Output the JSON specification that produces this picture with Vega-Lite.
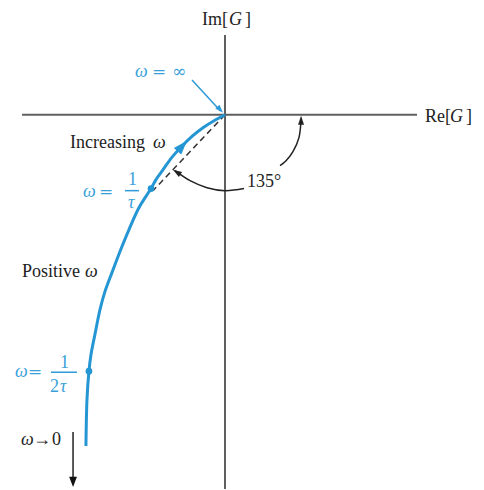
{
  "$schema": "https://vega.github.io/schema/vega-lite/v6.json",
  "width": 484,
  "height": 490,
  "autosize": {"type": "fit", "contains": "padding"},
  "padding": 0,
  "background": "white",
  "config": {"view": {"stroke": null}},
  "datasets": {
    "curve": [
      {"k": 0, "re": 0, "im": 0},
      {"k": 1, "re": -0.073, "im": -0.04},
      {"k": 2, "re": -0.147, "im": -0.087},
      {"k": 3, "re": -0.22, "im": -0.145},
      {"k": 4, "re": -0.287, "im": -0.21},
      {"k": 5, "re": -0.353, "im": -0.283},
      {"k": 6, "re": -0.413, "im": -0.367},
      {"k": 7, "re": -0.46, "im": -0.433},
      {"k": 8, "re": -0.493, "im": -0.493},
      {"k": 9, "re": -0.573, "im": -0.62},
      {"k": 10, "re": -0.64, "im": -0.767},
      {"k": 11, "re": -0.7, "im": -0.913},
      {"k": 12, "re": -0.753, "im": -1.053},
      {"k": 13, "re": -0.8, "im": -1.18},
      {"k": 14, "re": -0.833, "im": -1.3},
      {"k": 15, "re": -0.867, "im": -1.467},
      {"k": 16, "re": -0.893, "im": -1.6},
      {"k": 17, "re": -0.907, "im": -1.713},
      {"k": 18, "re": -0.92, "im": -1.9},
      {"k": 19, "re": -0.927, "im": -2.213}
    ],
    "marked": [
      {"omega": "1/tau", "re": -0.493, "im": -0.493},
      {"omega": "1/(2tau)", "re": -0.907, "im": -1.713}
    ],
    "axes": [
      {"name": "Re", "re": -1.353, "im": 0, "re2": 1.28, "im2": 0},
      {"name": "Im", "re": 0, "im": 0.533, "re2": 0, "im2": -2.5}
    ],
    "segments": [
      {"name": "phase", "grp": "dashed", "re": 0, "im": 0, "re2": -0.48, "im2": -0.507},
      {"name": "omega0", "grp": "black", "re": -1.013, "im": -2.12, "re2": -1.013, "im2": -2.44},
      {"name": "omegaInf", "grp": "blue", "re": -0.22, "im": 0.233, "re2": -0.03, "im2": 0.025},
      {"name": "bar1", "grp": "blue", "re": -0.667, "im": -0.507, "re2": -0.573, "im2": -0.507},
      {"name": "bar2", "grp": "blue", "re": -1.16, "im": -1.72, "re2": -0.987, "im2": -1.72}
    ],
    "arc": [
      {"seg": "upper", "k": 0, "re": 0.507, "im": -0.027},
      {"seg": "upper", "k": 1, "re": 0.493, "im": -0.153},
      {"seg": "upper", "k": 2, "re": 0.453, "im": -0.247},
      {"seg": "upper", "k": 3, "re": 0.407, "im": -0.307},
      {"seg": "upper", "k": 4, "re": 0.367, "im": -0.34},
      {"seg": "lower", "k": 0, "re": 0.127, "im": -0.493},
      {"seg": "lower", "k": 1, "re": 0, "im": -0.507},
      {"seg": "lower", "k": 2, "re": -0.12, "im": -0.487},
      {"seg": "lower", "k": 3, "re": -0.233, "im": -0.44},
      {"seg": "lower", "k": 4, "re": -0.333, "im": -0.373}
    ],
    "heads": [
      {"grp": "blueSmall", "re": -0.013, "im": 0.013, "dir": 138},
      {"grp": "blueBig", "re": -0.253, "im": -0.173, "dir": 42},
      {"grp": "arc", "re": -0.347, "im": -0.367, "dir": -58},
      {"grp": "arc", "re": 0.507, "im": -0.007, "dir": 0},
      {"grp": "down", "re": -1.013, "im": -2.487, "dir": 180}
    ],
    "labels": [
      {"grp": "black", "text": "Im[", "re": -0.153, "im": 0.6},
      {"grp": "blackItalic", "text": "G", "re": 0.027, "im": 0.6},
      {"grp": "black", "text": "]", "re": 0.133, "im": 0.6},
      {"grp": "black", "text": "Re[", "re": 1.333, "im": -0.047},
      {"grp": "blackItalic", "text": "G", "re": 1.5, "im": -0.047},
      {"grp": "black", "text": "]", "re": 1.607, "im": -0.047},
      {"grp": "black", "text": "Increasing", "re": -1.033, "im": -0.22},
      {"grp": "blackItalic", "text": "ω", "re": -0.48, "im": -0.22},
      {"grp": "black", "text": "Positive", "re": -1.353, "im": -1.087},
      {"grp": "blackItalic", "text": "ω", "re": -0.933, "im": -1.087},
      {"grp": "blackItalic", "text": "ω", "re": -1.36, "im": -2.207},
      {"grp": "black", "text": "→", "re": -1.28, "im": -2.207},
      {"grp": "black", "text": "0", "re": -1.153, "im": -2.207},
      {"grp": "black", "text": "135°", "re": 0.147, "im": -0.48},
      {"grp": "blueItalic", "text": "ω", "re": -0.6, "im": 0.253},
      {"grp": "blueSym", "text": "=", "re": -0.487, "im": 0.253},
      {"grp": "blueSym", "text": "∞", "re": -0.353, "im": 0.253},
      {"grp": "blueItalic", "text": "ω", "re": -0.947, "im": -0.547},
      {"grp": "blueSym", "text": "=", "re": -0.84, "im": -0.547},
      {"grp": "blue", "text": "1", "re": -0.647, "im": -0.467},
      {"grp": "blueItalic", "text": "τ", "re": -0.647, "im": -0.62},
      {"grp": "blueItalic", "text": "ω", "re": -1.4, "im": -1.753},
      {"grp": "blueSym", "text": "=", "re": -1.313, "im": -1.753},
      {"grp": "blue", "text": "1", "re": -1.1, "im": -1.693},
      {"grp": "blue", "text": "2", "re": -1.167, "im": -1.853},
      {"grp": "blueItalic", "text": "τ", "re": -1.1, "im": -1.853}
    ]
  },
  "encoding": {
    "x": {"field": "re", "type": "quantitative", "scale": {"domain": [-1.5, 1.7267], "nice": false, "zero": false}, "axis": null},
    "y": {"field": "im", "type": "quantitative", "scale": {"domain": [-2.5, 0.7667], "nice": false, "zero": false}, "axis": null}
  },
  "layer": [
    {
      "data": {"name": "axes"},
      "mark": {"type": "rule", "color": "#5f5f5f", "strokeWidth": 2},
      "encoding": {"x2": {"field": "re2"}, "y2": {"field": "im2"}}
    },
    {
      "data": {"name": "segments"},
      "transform": [{"filter": "datum.grp === 'dashed'"}],
      "mark": {"type": "rule", "color": "#333333", "strokeWidth": 1.5, "strokeDash": [6, 4]},
      "encoding": {"x2": {"field": "re2"}, "y2": {"field": "im2"}}
    },
    {
      "data": {"name": "segments"},
      "transform": [{"filter": "datum.grp === 'black'"}],
      "mark": {"type": "rule", "color": "#222222", "strokeWidth": 1.5},
      "encoding": {"x2": {"field": "re2"}, "y2": {"field": "im2"}}
    },
    {
      "data": {"name": "segments"},
      "transform": [{"filter": "datum.grp === 'blue'"}],
      "mark": {"type": "rule", "color": "#2e9ad8", "strokeWidth": 1.5},
      "encoding": {"x2": {"field": "re2"}, "y2": {"field": "im2"}}
    },
    {
      "data": {"name": "arc"},
      "mark": {"type": "line", "color": "#222222", "strokeWidth": 1.5, "interpolate": "catmull-rom"},
      "encoding": {"detail": {"field": "seg"}, "order": {"field": "k"}}
    },
    {
      "data": {"name": "curve"},
      "mark": {"type": "line", "color": "#2596d4", "strokeWidth": 3, "interpolate": "catmull-rom"},
      "encoding": {"order": {"field": "k"}}
    },
    {
      "data": {"name": "marked"},
      "mark": {"type": "point", "shape": "circle", "filled": true, "opacity": 1, "color": "#2596d4", "size": 45}
    },
    {
      "data": {"name": "heads"},
      "transform": [{"filter": "datum.grp === 'blueSmall'"}],
      "mark": {"type": "point", "shape": "M0,0L0.4,1.2L-0.4,1.2Z", "filled": true, "opacity": 1, "color": "#2e9ad8", "size": 200},
      "encoding": {"angle": {"field": "dir", "type": "quantitative", "scale": null}}
    },
    {
      "data": {"name": "heads"},
      "transform": [{"filter": "datum.grp === 'blueBig'"}],
      "mark": {"type": "point", "shape": "M0,0L0.42,1.2L-0.42,1.2Z", "filled": true, "opacity": 1, "color": "#2596d4", "size": 560},
      "encoding": {"angle": {"field": "dir", "type": "quantitative", "scale": null}}
    },
    {
      "data": {"name": "heads"},
      "transform": [{"filter": "datum.grp === 'arc'"}],
      "mark": {"type": "point", "shape": "M0,0L0.4,1.2L-0.4,1.2Z", "filled": true, "opacity": 1, "color": "#222222", "size": 220},
      "encoding": {"angle": {"field": "dir", "type": "quantitative", "scale": null}}
    },
    {
      "data": {"name": "heads"},
      "transform": [{"filter": "datum.grp === 'down'"}],
      "mark": {"type": "point", "shape": "M0,0L0.45,1.2L-0.45,1.2Z", "filled": true, "opacity": 1, "color": "#111111", "size": 300},
      "encoding": {"angle": {"field": "dir", "type": "quantitative", "scale": null}}
    },
    {
      "data": {"name": "labels"},
      "transform": [{"filter": "datum.grp === 'black'"}],
      "mark": {"type": "text", "align": "left", "baseline": "alphabetic", "font": "Liberation Serif", "fontSize": 18, "color": "#222222"},
      "encoding": {"text": {"field": "text"}}
    },
    {
      "data": {"name": "labels"},
      "transform": [{"filter": "datum.grp === 'blackItalic'"}],
      "mark": {"type": "text", "align": "left", "baseline": "alphabetic", "font": "Liberation Serif", "fontStyle": "italic", "fontSize": 18, "color": "#222222"},
      "encoding": {"text": {"field": "text"}}
    },
    {
      "data": {"name": "labels"},
      "transform": [{"filter": "datum.grp === 'blue'"}],
      "mark": {"type": "text", "align": "left", "baseline": "alphabetic", "font": "Liberation Serif", "fontSize": 18, "color": "#3a9fd9"},
      "encoding": {"text": {"field": "text"}}
    },
    {
      "data": {"name": "labels"},
      "transform": [{"filter": "datum.grp === 'blueSym'"}],
      "mark": {"type": "text", "align": "left", "baseline": "alphabetic", "font": "DejaVu Serif", "fontSize": 17, "color": "#3a9fd9"},
      "encoding": {"text": {"field": "text"}}
    },
    {
      "data": {"name": "labels"},
      "transform": [{"filter": "datum.grp === 'blueItalic'"}],
      "mark": {"type": "text", "align": "left", "baseline": "alphabetic", "font": "Liberation Serif", "fontStyle": "italic", "fontSize": 18, "color": "#3a9fd9"},
      "encoding": {"text": {"field": "text"}}
    }
  ]
}
